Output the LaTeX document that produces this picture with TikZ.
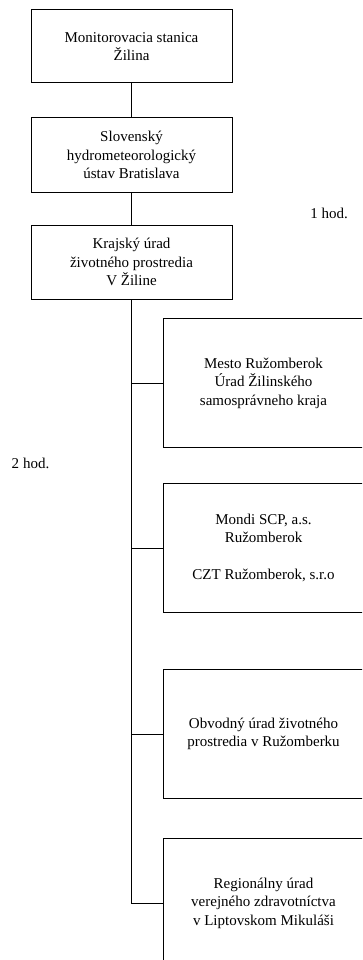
\documentclass[tikz,border=0pt]{standalone}
\usepackage{fontspec}
\setmainfont{Liberation Serif}
\usetikzlibrary{positioning}

\begin{document}
\begin{tikzpicture}[x=1pt,y=1pt,
        every node/.style={font=\fontsize{15}{18.5}\selectfont},
        box/.style={draw,line width=1pt,minimum width=201pt,inner sep=0pt,align=center},
        lbox/.style={box,minimum height=74pt},
        rbox/.style={box,minimum height=129pt},
        link/.style={line width=1pt}
    ]
    \useasboundingbox (0,0) rectangle (362,-960);
    \clip (0,0) rectangle (362,-960);
    \node [lbox,minimum height=73pt] (stanica) at (131.5,-46.5) {Monitorovacia stanica\\Žilina};
    \node [lbox,below=34pt of stanica] (shmu) {Slovenský\\hydrometeorologický\\ústav Bratislava};
    \node [lbox,below=32pt of shmu] (kuzp) {Krajský úrad\\životného prostredia\\V Žiline};
    \node [rbox] (mesto) at (263.5,-383) {Mesto Ružomberok\\Úrad Žilinského\\samosprávneho kraja};
    \node [rbox,below=35pt of mesto] (mondi) {Mondi SCP, a.s.\\Ružomberok\\[18.5pt]CZT Ružomberok, s.r.o};
    \node [rbox,below=56pt of mondi] (obvod) {Obvodný úrad životného\\prostredia v Ružomberku};
    \node [rbox,below=39pt of obvod] (ruvz) {Regionálny úrad\\verejného zdravotníctva\\v Liptovskom Mikuláši};
    \node (hod1) at (329,-213) {1 hod.};
    \node (hod2) at (30.5,-463) {2 hod.};
    \draw [link] (stanica) -- (shmu);
    \draw [link] (shmu) -- (kuzp);
    \draw [link] (kuzp.south) -- (kuzp.south |- ruvz.west) -- (ruvz.west);
    \foreach \n in {mesto,mondi,obvod} {
        \draw [link] (kuzp.south |- \n.west) -- (\n.west);
    }
\end{tikzpicture}
\end{document}
